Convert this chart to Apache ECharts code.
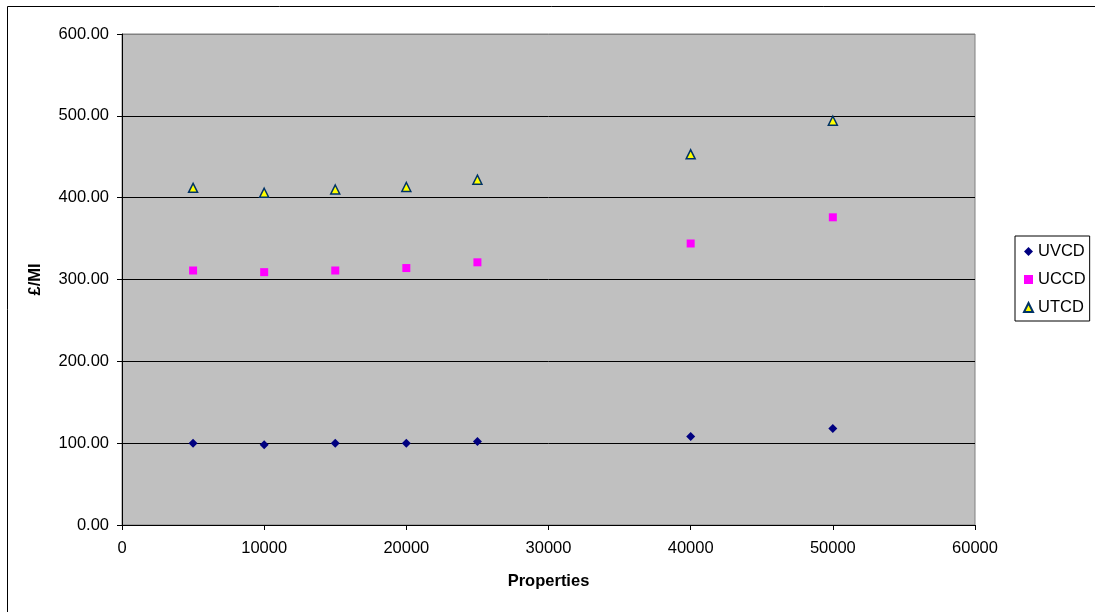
<!DOCTYPE html>
<html><head><meta charset="utf-8">
<script src="https://cdn.jsdelivr.net/npm/echarts@6/dist/echarts.min.js"></script>
<style>html,body{margin:0;padding:0;background:#fff}#c{width:1095px;height:612px}</style>
</head><body><div id="c"></div>
<script>
const properties = [5000, 10000, 15000, 20000, 25000, 40000, 50000];
const uvcd = [100, 98, 100, 100, 102, 108, 118];
const uccd = [311, 309, 311, 314, 321, 344, 376];
const utcd = [412, 406, 410, 413, 422, 453, 494];
const seriesNames = ['UVCD', 'UCCD', 'UTCD'];
const xTitle = 'Properties';
const yTitle = '£/MI';

const font = 'Liberation Sans, Arial, sans-serif';
const fs = 16.5;
const chart = echarts.init(document.getElementById('c'));
const pts = arr => properties.map((x, i) => [x, arr[i]]);
chart.setOption({
  animation: false,
  textStyle: { fontFamily: font },
  graphic: [{
    type: 'rect', shape: { x: 7.5, y: 6.5, width: 1200, height: 700 },
    style: { fill: 'none', stroke: '#000', lineWidth: 1 }, silent: true
  }],
  grid: {
    left: 122, top: 34, right: 120, bottom: 87,
    show: true, backgroundColor: '#c0c0c0', borderColor: '#808080', borderWidth: 1
  },
  legend: {
    orient: 'vertical', left: 1015, top: 236,
    borderColor: '#000', borderWidth: 1, backgroundColor: '#fff',
    padding: [7, 4, 5, 8], itemGap: 11, itemWidth: 9, itemHeight: 9,
    textStyle: { fontSize: fs, color: '#000', fontFamily: font },
    data: seriesNames
  },
  xAxis: {
    type: 'value', min: 0, max: 60000, interval: 10000,
    name: xTitle, nameLocation: 'middle', nameGap: 48,
    nameTextStyle: { fontWeight: 'bold', fontSize: fs, color: '#000', fontFamily: font },
    axisLine: { lineStyle: { color: '#000', width: 1 } },
    axisTick: { show: true, inside: false, length: 5, lineStyle: { color: '#000' } },
    axisLabel: { fontSize: fs, color: '#000', margin: 15, fontFamily: font, formatter: v => String(v) },
    splitLine: { show: false }
  },
  yAxis: {
    type: 'value', min: 0, max: 600, interval: 100,
    name: yTitle, nameLocation: 'middle', nameGap: 78, nameRotate: 90,
    nameTextStyle: { fontWeight: 'bold', fontSize: fs, color: '#000', fontFamily: font },
    axisLine: { show: true, lineStyle: { color: '#000', width: 1 } },
    axisTick: { show: true, inside: false, length: 5, lineStyle: { color: '#000' } },
    axisLabel: { fontSize: fs, color: '#000', margin: 13, fontFamily: font, formatter: v => v.toFixed(2) },
    splitLine: { show: true, lineStyle: { color: ['#000', '#000', '#000', '#000', '#000', '#000', '#808080'], width: 1 } }
  },
  series: [
    { name: 'UVCD', type: 'scatter', symbol: 'diamond', symbolSize: 9,
      itemStyle: { color: '#000080', opacity: 1 }, data: pts(uvcd) },
    { name: 'UCCD', type: 'scatter', symbol: 'rect', symbolSize: 8,
      itemStyle: { color: '#ff00ff', opacity: 1 }, data: pts(uccd) },
    { name: 'UTCD', type: 'scatter', symbol: 'triangle', symbolSize: 9,
      itemStyle: { color: '#ffff00', borderColor: '#003366', borderWidth: 1.5, opacity: 1 }, data: pts(utcd) }
  ]
});
</script></body></html>
